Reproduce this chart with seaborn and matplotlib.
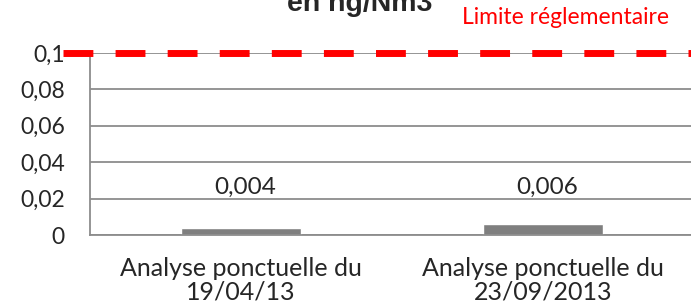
import matplotlib
matplotlib.use("Agg")
import matplotlib.pyplot as plt
import seaborn as sns
import pandas as pd

# Data
categories = ["Analyse ponctuelle du\n19/04/13", "Analyse ponctuelle du\n23/09/2013"]
values = [0.004, 0.006]
value_labels = ["0,004", "0,006"]
limit = 0.1
yticks = [0, 0.02, 0.04, 0.06, 0.08, 0.1]
ytick_labels = ["0", "0,02", "0,04", "0,06", "0,08", "0,1"]

df = pd.DataFrame({"cat": categories, "val": values})

sns.set_style("white")
plt.rcParams["font.family"] = ["Lato", "DejaVu Sans"]

W, H = 691, 304
fig = plt.figure(figsize=(W / 100, H / 100), dpi=100)
ax = fig.add_axes([90 / W, (H - 235) / H, 604 / W, 182 / H])

sns.barplot(data=df, x="cat", y="val", color="#7f7f7f", width=0.4,
            saturation=1, ax=ax, zorder=3)

ax.set_xlim(-0.5, 1.5)
ax.set_ylim(0, 0.1)
ax.set_yticks(yticks)
ax.set_yticklabels(ytick_labels, fontsize=16.5)
ax.tick_params(axis="y", length=7, width=1.3, color="#8c8c8c", pad=11)
ax.set_xticks(range(len(categories)))
ax.set_xticklabels(categories, fontsize=18, linespacing=1.02)
ax.tick_params(axis="x", length=0, pad=16)
ax.set_xticks([-0.5, 0.5, 1.5], minor=True)
ax.tick_params(axis="x", which="minor", length=7, width=1.3, color="#8c8c8c")
ax.set_xlabel("")
ax.set_ylabel("")

ax.grid(axis="y", color="#8c8c8c", linewidth=1.3, zorder=0)
for s in ["top", "right"]:
    ax.spines[s].set_visible(False)
for s in ["left", "bottom"]:
    ax.spines[s].set_color("#8c8c8c")
    ax.spines[s].set_linewidth(1.3)
    ax.spines[s].set_zorder(4)

# value labels (placed at same height as in the reference)
for i, lab in enumerate(value_labels):
    ax.text(i + 0.015, 0.264, lab, transform=ax.get_xaxis_transform(),
            ha="center", va="center", fontsize=17.5)

# regulatory limit
ax.axhline(limit, xmin=-27 / 604, xmax=1, color="#ff0000", linewidth=5,
           linestyle=(0, (4.3, 3.2)), clip_on=False, zorder=5)

fig.text(462 / W, 1 - 18 / H, "Limite réglementaire", color="#ff0000",
         fontsize=16.5, ha="left", va="center")
fig.text(360 / W, 1 - 11 / H, "en ng/Nm3", fontsize=20.5, fontweight="bold",
         ha="center", va="baseline", family="Liberation Sans")

fig.savefig("out.png", dpi=100)
